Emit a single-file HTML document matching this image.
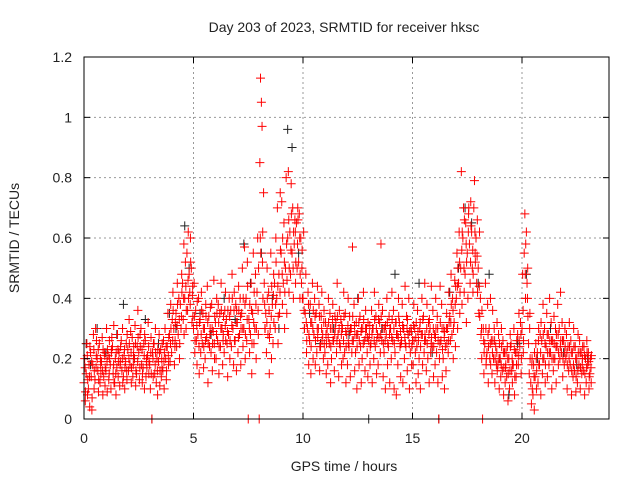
<!DOCTYPE html>
<html><head><meta charset="utf-8"><style>
body{margin:0;background:#fff}
svg text{font-family:"Liberation Sans",sans-serif;font-size:14px;fill:#222}
</style></head><body>
<svg id="chart" width="640" height="480">
<rect width="640" height="480" fill="#fff"/>
<g id="grid"></g>
<g id="pts"></g>
<rect x="84" y="57" width="525" height="362" fill="none" stroke="#000" stroke-width="1"/>
<g id="ticks"></g>
<text x="344" y="32" text-anchor="middle">Day 203 of 2023, SRMTID for receiver hksc</text>
<text x="344" y="471" text-anchor="middle">GPS time / hours</text>
<text transform="translate(19,238) rotate(-90)" text-anchor="middle">SRMTID / TECUs</text>
</svg>
<script>
const xTicks=[0,5,10,15,20];
const yTicks=[0,0.2,0.4,0.6,0.8,1,1.2];
const yTickLabels=["0","0.2","0.4","0.6","0.8","1","1.2"];
const redStart=0, redStep=0.1;
const redV=[
[.12,.20,.06],[.15,.25,.08],[.10,.18,.04],[.22,.14,.03],[.18,.28,.10],[.13,.30,.21],[.20,.16,.09],[.25,.12,.18],[.19,.27,.08],[.14,.22,.11],
[.16,.30,.09],[.21,.13,.26],[.18,.10,.23],[.24,.15,.31],[.12,.20,.08],[.17,.28,.14],[.22,.11,.19],[.26,.16,.30],[.14,.21,.10],[.19,.25,.13],
[.23,.16,.33],[.18,.29,.12],[.27,.14,.21],[.20,.31,.11],[.15,.24,.36],[.22,.13,.28],[.30,.18,.12],[.17,.25,.10],[.26,.14,.20],[.21,.32,.15],
[.18,.10,.27],[0,.22,.14],[.25,.15,.30],[.12,.20,.08],[.19,.28,.11],[.23,.14,.17],[.16,.26,.10],[.30,.20,.13],[.24,.35,.18],[.28,.19,.38],
[.22,.33,.42],[.30,.18,.26],[.35,.24,.45],[.28,.40,.20],[.38,.30,.48],[.45,.33,.58],[.40,.52,.30],[.55,.36,.62],[.48,.42,.60],[.50,.32,.44],
[.30,.45,.22],[.36,.26,.18],[.28,.40,.15],[.33,.22,.42],[.25,.35,.17],[.30,.20,.38],[.27,.44,.12],[.34,.24,.30],[.22,.38,.16],[.29,.46,.20],
[.32,.20,.40],[.26,.38,.15],[.35,.24,.45],[.30,.18,.28],[.22,.36,.42],[.33,.25,.14],[.28,.40,.20],[.36,.24,.48],[.30,.18,.42],[.26,.38,.16],
[.32,.22,.44],[.28,.40,.18],[.35,.50,.24],[.30,.57,.20],[.40,.26,.52],[0,.33,.22],[.28,.45,.15],[.35,.55,.25],[.30,.48,.20],[.42,.60,.28],
[0,.85,1.13],[1.05,.97,.62],[.75,.45,.30],[.35,.22,.50],[.28,.42,.15],[.30,.55,.20],[.38,.25,.48],[.45,.30,.60],[.40,.70,.25],[.48,.35,.75],
[.55,.72,.38],[.45,.65,.30],[.50,.80,.35],[.60,.82,.42],[.62,.48,.78],[.55,.70,.40],[.58,.66,.45],[.65,.50,.70],[.52,.68,.40],[.60,.45,.56],
[.40,.62,.30],[.35,.48,.22],[.30,.42,.18],[.26,.38,.15],[.32,.45,.20],[.28,.40,.18],[.35,.22,.44],[.30,.38,.16],[.24,.34,.42],[.28,.20,.36],
[.22,.32,.15],[.30,.18,.40],[.25,.35,.12],[.20,.30,.38],[.26,.16,.34],[.32,.22,.45],[.28,.14,.36],[.24,.33,.18],[.30,.20,.42],[.22,.35,.12],
[.28,.18,.40],[.24,.34,.14],[.30,.22,.57],[.26,.38,.16],[.22,.32,.10],[.28,.40,.18],[.34,.24,.12],[.20,.30,.42],[.26,.16,.36],[.30,.22,.14],
[.26,.28,.18],[.25,.36,.12],[.30,.20,.42],[.24,.34,.15],[.28,.18,.38],[.32,.22,.58],[.26,.36,.14],[.22,.30,.10],[.28,.40,.18],[.24,.34,.12],
[.30,.20,.42],[.26,.36,.10],[.22,.32,.08],[.28,.18,.40],[.32,.24,.14],[.26,.38,.12],[.30,.20,.44],[.24,.34,.16],[.28,.40,.10],[.22,.30,.18],
[.26,.18,.38],[.30,.22,.12],[.24,.36,.15],[.20,.30,.10],[.28,.40,.18],[.34,.22,.45],[.26,.16,.38],[.20,.32,.12],[.30,.22,.44],[.24,.36,.14],
[.28,.18,.40],[.22,.34,.12],[0,.20,.44],[.26,.38,.14],[.20,.30,.10],[.24,.16,.35],[.30,.22,.42],[.34,.26,.48],[.28,.40,.20],[.32,.46,.24],
[.40,.55,.30],[.45,.62,.35],[.50,.82,.38],[.60,.70,.42],[.48,.65,.32],[.55,.40,.68],[.58,.45,.72],[.62,.50,.42],[.70,.79,.55],[.60,.45,.66],
[.50,.35,.62],[.40,.28,.20],[0,.30,.15],[.25,.45,.18],[.22,.38,.12],[.30,.20,.40],[.26,.15,.36],[.20,.30,.12],[.24,.18,.32],[.18,.28,.10],
[.20,.14,.30],[.16,.26,.08],[.22,.12,.18],[.14,.24,.06],[.20,.10,.28],[.25,.16,.12],[.18,.30,.08],[.22,.14,.26],[.28,.18,.35],[.24,.32,.15],
[.30,.48,.22],[.55,.68,.40],[.62,.45,.50],[.25,.15,.35],[.12,.05,.20],[.08,.18,.03],[.14,.25,.10],[.22,.12,.30],[.18,.28,.08],[.26,.15,.38],
[.20,.30,.12],[.24,.35,.14],[.28,.18,.40],[.22,.32,.10],[.26,.16,.34],[.20,.30,.12],[.24,.38,.18],[.30,.20,.42],[.22,.32,.14],[.26,.18,.30],
[.20,.28,.10],[.24,.16,.32],[.18,.26,.08],[.22,.14,.30],[.16,.24,.09],[.20,.12,.28],[.18,.26,.10],[.22,.15,.20],[.16,.24,.08],[.20,.12,.26],
[.18,.22,.10],[.15,.20,.12]
];
const redV2=[
[.17,.09],[.21,.13],[.14,.24],[.19,.07],[.23,.16],[.17,.26],[.23,.13],[.20,.15],[.16,.23],[.21,.17],
[.19,.23],[.15,.20],[.22,.27],[.18,.12],[.15,.22],[.23,.19],[.18,.24],[.20,.12],[.23,.17],[.16,.28],
[.20,.25],[.22,.17],[.18,.24],[.25,.16],[.19,.27],[.17,.24],[.23,.15],[.21,.28],[.19,.17],[.24,.19],
[.22,.15],[.20,.25],[.18,.22],[.16,.23],[.22,.16],[.20,.25],[.19,.22],[.24,.16],[.21,.27],[.25,.30],
[.26,.36],[.24,.32],[.31,.38],[.33,.25],[.34,.42],[.40,.28],[.44,.36],[.46,.40],[.38,.52],[.41,.34],
[.34,.26],[.31,.39],[.24,.32],[.28,.36],[.30,.24],[.26,.34],[.32,.25],[.28,.37],[.30,.25],[.25,.34],
[.28,.35],[.32,.24],[.30,.36],[.26,.34],[.31,.26],[.29,.36],[.34,.26],[.31,.40],[.36,.26],[.32,.36],
[.27,.36],[.34,.30],[.30,.40],[.38,.28],[.33,.44],[.30,.38],[.36,.25],[.32,.42],[.38,.30],[.36,.50],
[.60,.55],[.52,.40],[.38,.30],[.32,.40],[.36,.27],[.34,.44],[.41,.32],[.38,.52],[.44,.34],[.42,.56],
[.48,.60],[.52,.42],[.58,.46],[.66,.50],[.56,.68],[.50,.62],[.62,.52],[.58,.66],[.60,.48],[.50,.40],
[.36,.30],[.32,.26],[.38,.28],[.32,.24],[.30,.36],[.34,.26],[.30,.27],[.34,.24],[.30,.26],[.32,.25],
[.28,.25],[.27,.32],[.30,.24],[.33,.26],[.28,.30],[.26,.34],[.30,.25],[.28,.31],[.26,.34],[.29,.24],
[.31,.25],[.29,.30],[.26,.34],[.31,.28],[.28,.24],[.32,.26],[.29,.30],[.25,.33],[.30,.27],[.27,.32],
[.31,.24],[.28,.30],[.26,.33],[.30,.26],[.33,.27],[.28,.34],[.30,.25],[.26,.31],[.32,.25],[.28,.30],
[.27,.33],[.30,.25],[.32,.28],[.27,.34],[.29,.25],[.31,.30],[.27,.25],[.30,.33],[.25,.29],[.29,.24],
[.31,.26],[.27,.32],[.29,.26],[.32,.24],[.28,.33],[.26,.28],[.30,.25],[.28,.33],[.25,.27],[.30,.24],
[.27,.30],[.30,.26],[.25,.32],[.30,.23],[.27,.29],[.30,.25],[.26,.32],[.32,.38],[.36,.30],[.38,.44],
[.44,.50],[.52,.42],[.56,.62],[.50,.66],[.58,.52],[.62,.70],[.52,.64],[.56,.48],[.62,.52],[.54,.42],
[.44,.34],[.30,.36],[.26,.22],[.30,.20],[.28,.24],[.25,.18],[.22,.26],[.26,.20],[.22,.16],[.20,.25],
[.18,.24],[.22,.17],[.17,.22],[.20,.15],[.16,.24],[.20,.18],[.23,.14],[.18,.22],[.21,.26],[.28,.20],
[.36,.26],[.48,.58],[.40,.34],[.30,.20],[.18,.10],[.14,.22],[.20,.16],[.26,.18],[.22,.32],[.20,.28],
[.25,.18],[.28,.22],[.22,.26],[.26,.20],[.20,.25],[.24,.28],[.28,.22],[.24,.26],[.26,.20],[.22,.24],
[.22,.18],[.20,.24],[.22,.16],[.18,.24],[.20,.14],[.16,.22],[.22,.17],[.18,.24],[.21,.15],[.17,.22],
[.19,.14],[.17,.21]
];
const blackT=[0.1,0.3,0.6,1.0,1.5,1.8,2.3,2.8,3.1,3.4,3.9,4.2,4.6,4.8,5.3,5.8,6.4,6.9,7.3,7.6,8.1,8.6,8.9,9.3,9.5,9.8,10.3,10.8,11.4,12.1,12.5,13.0,13.6,14.2,14.8,15.3,15.9,16.2,16.7,17.1,17.4,17.7,18.0,18.5,19.0,19.4,19.8,20.2,20.7,21.3,21.9,22.5,23.0];
const blackV=[.25,.18,.30,.22,.28,.38,.20,.33,0,.25,.35,.30,.64,.50,.35,.28,.40,.33,.58,.45,.55,.40,.30,.96,.90,.55,.35,.25,.30,.28,.40,0,.30,.48,.28,.45,.22,0,.42,.50,.70,.65,.45,.48,.20,.08,.25,.48,.20,.30,.22,.18,.20];
const X=t=>84+t*(438/20), Y=v=>419-v*(362/1.2);
const NS="http://www.w3.org/2000/svg";
const grid=document.getElementById('grid'),ticks=document.getElementById('ticks'),pts=document.getElementById('pts');
function mk(tag,attrs,parent){const e=document.createElementNS(NS,tag);for(const k in attrs)e.setAttribute(k,attrs[k]);parent.appendChild(e);return e;}
xTicks.forEach(t=>{const x=X(t);
 if(t>0){const g=mk('line',{x1:x,x2:x,y1:57,y2:419,stroke:'#999','stroke-dasharray':'2,3'},grid);
 
 }
 const a=mk('line',{x1:x,x2:x,y1:419,y2:413,stroke:'#000'},ticks);
 
 
 const b=mk('line',{x1:x,x2:x,y1:57,y2:63,stroke:'#000'},ticks);
 
 
 const l=mk('text',{x:x,y:443,'text-anchor':'middle'},ticks);l.textContent=String(t);
 
 });
yTicks.forEach((v,i)=>{const y=Y(v);
 if(v>0&&v<1.2){const g=mk('line',{x1:84,x2:609,y1:y,y2:y,stroke:'#999','stroke-dasharray':'2,3'},grid);
 
 }
 const a=mk('line',{x1:84,x2:90,y1:y,y2:y,stroke:'#000'},ticks);
 
 
 const b=mk('line',{x1:603,x2:609,y1:y,y2:y,stroke:'#000'},ticks);
 
 
 const l=mk('text',{x:72,y:y+5,'text-anchor':'end'},ticks);l.textContent=yTickLabels[i];
 
 });
function plus(t,v,col,name){const x=X(t),y=Y(v);
 const p=mk('path',{d:`M${x-4.5},${y}h9M${x},${y-4.5}v9`,stroke:col,'stroke-width':1,fill:'none'},pts);
 
 }
blackT.forEach((t,i)=>plus(t,blackV[i],'#222','black-point'));
redV.forEach((arr,i)=>{const t=redStart+i*redStep;arr.forEach((v,j)=>plus(t+j*0.03,v,'#ff0000','red-point'));});
redV2.forEach((arr,i)=>{const t=redStart+i*redStep+0.05;arr.forEach((v,j)=>plus(t+j*0.02,v,'#ff0000','red-point'));});
</script>
</body></html>
